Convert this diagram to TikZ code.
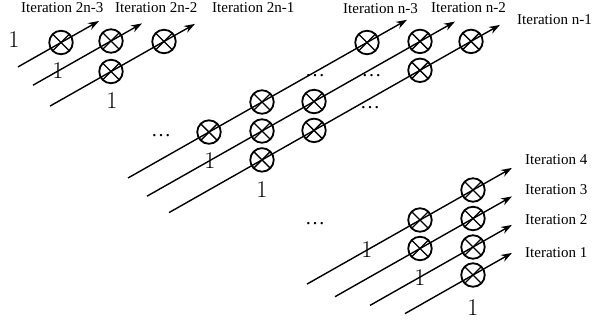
\documentclass[tikz,border=0pt]{standalone}
\usepackage{fontspec}
\newfontfamily\labelfont{Liberation Serif}
\usetikzlibrary{arrows.meta}
\begin{document}
\begin{tikzpicture}[x=1pt,y=-1pt,
  wire/.style={line width=1.4pt,-{Stealth[length=11pt,width=7.5pt]}},
  xcirc/.style={circle,draw,line width=1.8pt,minimum size=23.5pt,inner sep=0pt,
    path picture={\draw[line width=1.4pt]
      (path picture bounding box.north west) -- (path picture bounding box.south east)
      (path picture bounding box.north east) -- (path picture bounding box.south west);}},
  onelbl/.style={font=\fontsize{24}{24}\selectfont,inner sep=0pt},
  iterlbl/.style={font=\labelfont\fontsize{15}{18}\selectfont,inner sep=0pt,anchor=base west},
  ellip/.style={font=\labelfont\fontsize{20}{20}\selectfont,inner sep=0pt,anchor=base}]
\useasboundingbox (0,0) rectangle (592,324);

% ---- upper left group (iterations 2n-3 ... 2n-1)
\coordinate (a1s) at (18,66.9);  \coordinate (a1e) at (99,21.0);
\coordinate (a2s) at (33,85.2);  \coordinate (a2e) at (142,23.4);
\coordinate (a3s) at (50,106.1); \coordinate (a3e) at (195,23.9);
\draw[wire] (a1s) -- (a1e);
\draw[wire] (a2s) -- (a2e);
\draw[wire] (a3s) -- (a3e);
\node[xcirc] (a11) at (61,42.5) {};
\node[xcirc] (a21) at (111,41) {};
\node[xcirc] (a31) at (111,71.5) {};
\node[xcirc] (a32) at (164,41.5) {};
\node[onelbl] (a1one) at (14,39.5) {1};
\node[onelbl] (a2one) at (58,70.5) {1};
\node[onelbl] (a3one) at (112,100.5) {1};

% ---- middle group (iterations n-3 ... n-1)
\coordinate (b1s) at (128,178.0); \coordinate (b1e) at (407,19.8);
\coordinate (b2s) at (147,196.2); \coordinate (b2e) at (455,21.6);
\coordinate (b3s) at (169,212.6); \coordinate (b3e) at (500,24.9);
\draw[wire] (b1s) -- (b1e);
\draw[wire] (b2s) -- (b2e);
\draw[wire] (b3s) -- (b3e);
\node[xcirc] (b11) at (209,132.05) {};
\node[xcirc] (b12) at (262,102) {};
\node[xcirc] (b13) at (367,42.5) {};
\node[xcirc] (b21) at (262,131.0) {};
\node[xcirc] (b22) at (314,101.5) {};
\node[xcirc] (b23) at (420,41.4) {};
\node[xcirc] (b31) at (262,159.9) {};
\node[xcirc] (b32) at (314,130.4) {};
\node[xcirc] (b33) at (420,70.3) {};
\node[xcirc] (b34) at (471,41.4) {};
\node[onelbl] (b1one) at (210,160.5) {1};
\node[onelbl] (b2one) at (262,190) {1};

% ---- lower right group (iterations 1 ... 4)
\coordinate (c1s) at (307,284.1); \coordinate (c1e) at (512,167.9);
\coordinate (c2s) at (335,296.7); \coordinate (c2e) at (512,196.4);
\coordinate (c3s) at (370,305.4); \coordinate (c3e) at (512,224.9);
\coordinate (c4s) at (405,313.6); \coordinate (c4e) at (512,252.9);
\draw[wire] (c1s) -- (c1e);
\draw[wire] (c2s) -- (c2e);
\draw[wire] (c3s) -- (c3e);
\draw[wire] (c4s) -- (c4e);
\node[xcirc] (c11) at (420,220.0) {};
\node[xcirc] (c12) at (473,190.0) {};
\node[xcirc] (c21) at (420,248.5) {};
\node[xcirc] (c22) at (473,218.5) {};
\node[xcirc] (c31) at (473,247) {};
\node[xcirc] (c41) at (473,275) {};
\node[onelbl] (c1one) at (367,249.5) {1};
\node[onelbl] (c2one) at (420,278) {1};
\node[onelbl] (c3one) at (473,308) {1};

% ---- ellipses between the groups
\node[ellip] (e1) at (161,136.5) {…};
\node[ellip] (e2) at (315,76.5) {…};
\node[ellip] (e3) at (371.5,76.5) {…};
\node[ellip] (e4) at (370,108.5) {…};
\node[ellip] (e5) at (315,224.5) {…};

% ---- iteration labels
\node[iterlbl] (t1) at (21,12.5) {Iteration 2n-3};
\node[iterlbl] (t2) at (115,12.5) {Iteration 2n-2};
\node[iterlbl] (t3) at (212,12.5) {Iteration 2n-1};
\node[iterlbl] (t4) at (343,13) {Iteration n-3};
\node[iterlbl] (t5) at (431,12.5) {Iteration n-2};
\node[iterlbl] (t6) at (517,24) {Iteration n-1};
\node[iterlbl] (t7) at (525,164) {Iteration 4};
\node[iterlbl] (t8) at (525,194) {Iteration 3};
\node[iterlbl] (t9) at (525,224) {Iteration 2};
\node[iterlbl] (t10) at (525,257) {Iteration 1};
\end{tikzpicture}
\end{document}
